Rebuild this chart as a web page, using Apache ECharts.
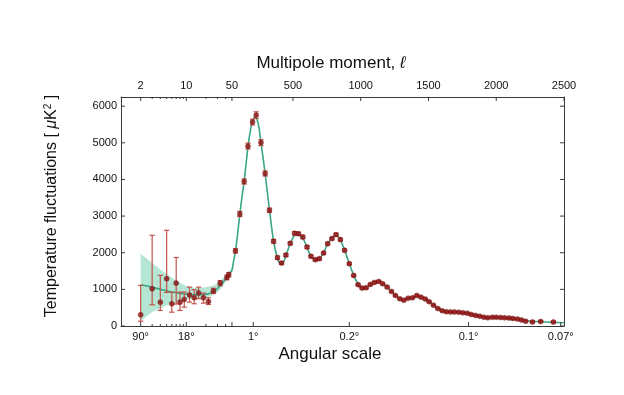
<!DOCTYPE html>
<html><head><meta charset="utf-8">
<script src="https://cdn.jsdelivr.net/npm/echarts@6/dist/echarts.min.js"></script>
<style>html,body{margin:0;padding:0;background:#fff}#c{width:624px;height:395px}</style>
</head><body><div id="c"></div>
<script>
// ---- data ----
const lowL   = [2,3,4,5,6,7,8,9.3,11.2,13.2,15.4,18.3,21.8,26,33,41.8,44.6];
const lowD   = [306,1017,651,1291,607,1171,651,725,848,771,903,771,670,957,1171,1326,1400];
const lowHi  = [1108,2475,1381,2612,924,1870,924,924,1061,990,1061,897,771,1030,1240,1390,1460];
const lowLo  = [130,580,424,916,377,600,424,514,651,607,744,624,588,890,1100,1260,1340];

const highL = [76,108,140,168,202,229,264,295,327,357,386,416,448,480,512,541,573,604,633,665,695,726,756,788,818,850,881,916,948,981,1010,1040,1071,1101,1133,1162,1195,1227,1256,1288,1318,1350,1382,1414,1445,1476,1505,1537,1569,1601,1632,1663,1692,1724,1754,1786,1816,1848,1879,1909,1938,1971,2000,2032,2062,2094,2123,2156,2186,2217,2267,2328,2422];
const highD = [2051,3058,3944,4909,5566,5757,5005,4163,3159,2311,1865,1718,1936,2256,2530,2516,2429,2155,1901,1811,1838,1991,2248,2385,2494,2358,2065,1701,1381,1127,1034,1045,1135,1190,1217,1154,1061,944,834,744,706,760,771,834,788,738,662,569,479,416,388,383,383,377,361,350,315,287,265,241,227,238,238,232,224,219,205,191,164,130,112,125,110];
const highErr = [60,70,70,80,80,90,80,70,60,50,45,40,40,40,45,45,45,40,35,35,35,35,35,35,35,35,35,30,30,28,25,25,25,25,25,25,25,22,22,20,20,20,20,20,20,20,18,18,18,18,18,18,18,18,18,18,18,18,18,18,18,18,20,20,20,20,20,22,22,22,22,25,25];

const modelL = [2,3,4,5,6,8,10,14,18,22,27,33,40,45,50,60,76,90,108,125,140,168,190,205,220,235,250,264,280,295,327,357,386,410,425,448,480,512,530,545,573,604,633,665,695,726,756,788,812,830,850,881,916,948,981,1010,1040,1071,1101,1133,1162,1195,1227,1256,1288,1318,1350,1382,1414,1445,1476,1505,1537,1569,1601,1632,1663,1692,1724,1754,1786,1816,1848,1879,1909,1938,1971,2000,2032,2062,2094,2123,2156,2186,2217,2267,2328,2422,2500];
const modelD = [1127,1060,1000,960,930,890,865,850,860,880,950,1100,1290,1400,1520,1730,2050,2450,3050,3550,3950,4880,5420,5630,5700,5640,5400,5000,4580,4150,3160,2320,1850,1700,1710,1920,2250,2480,2530,2510,2400,2150,1900,1800,1830,2000,2240,2400,2470,2450,2360,2070,1700,1390,1140,1040,1050,1130,1190,1210,1160,1060,945,835,745,710,755,775,820,790,735,660,570,480,420,390,383,380,375,360,345,318,290,265,245,232,230,228,225,220,212,200,188,170,150,130,115,100,90];

const bandL  = [2,3,4,5,6,8,10,14,20,27,33,40,48,56];
const bandHi = [1975,1720,1540,1420,1320,1180,1090,1040,1060,1120,1230,1380,1540,1700];
const bandLo = [130,380,480,560,610,680,720,750,770,850,990,1200,1420,1600];

const topTickL   = [2,10,50,500,1000,1500,2000,2500];
const topLabels  = ['2','10','50','500','1000','1500','2000','2500'];
const minorTickL = [3,4,5,6,7,8,9,20,30,40];
const botTickL   = [2,10,50,207,916,1796,2476];
const botLabelL  = [2,10,207,916,1796,2476];
const botLabels  = ['90°','18°','1°','0.2°','0.1°','0.07°'];
const yTicks     = [0,1000,2000,3000,4000,5000,6000];
const YMAX = 6250;

// ---- hybrid scale: log for l<=50, linear above ----
const K = 65.2, C = 0.1353;
function U(l){ return l <= 50 ? K*Math.log10(l) : K*Math.log10(50) + C*(l-50); }
const XMIN = U(1), XMAX = U(2500);

function labelFor(ls, labs){
  const m = ls.map(l => U(l));
  return v => { for (let i=0;i<m.length;i++) if (Math.abs(m[i]-v) < 1e-6) return labs[i]; return ''; };
}

const FONT = 'Liberation Sans';
const INK = '#3a3a3a';
const frame = {show:true, onZero:false, lineStyle:{color:INK, width:1}};

// tick marks drawn inward: [x, y, dx, dy]
const xTickData = []
  .concat(topTickL.map(l => [U(l), YMAX, 0, 4]))
  .concat(minorTickL.map(l => [U(l), YMAX, 0, 2]))
  .concat(botTickL.map(l => [U(l), 0, 0, -4]))
  .concat(minorTickL.map(l => [U(l), 0, 0, -2]));
const yTickData = []
  .concat(yTicks.map(v => [XMIN, v, 4, 0]))
  .concat(yTicks.map(v => [XMAX, v, -4, 0]));

const chart = echarts.init(document.getElementById('c'), null, {renderer:'canvas'});
chart.setOption({
  animation:false,
  backgroundColor:'#fff',
  grid:{left:121, right:60, top:97, bottom:69},
  xAxis:[
    {type:'value', position:'top', min:XMIN, max:XMAX, splitLine:{show:false}, axisLine:frame, axisTick:{show:false},
     axisLabel:{show:true, margin:6, fontFamily:FONT, fontSize:11, color:'#111', customValues: topTickL.map(U), formatter: labelFor(topTickL, topLabels)}},
    {type:'value', position:'bottom', min:XMIN, max:XMAX, splitLine:{show:false}, axisLine:frame, axisTick:{show:false},
     axisLabel:{show:true, margin:5, fontFamily:FONT, fontSize:11, color:'#111', customValues: botLabelL.map(U), formatter: labelFor(botLabelL, botLabels)}}
  ],
  yAxis:[
    {type:'value', position:'left', min:0, max:YMAX, splitLine:{show:false}, axisLine:frame, axisTick:{show:false},
     axisLabel:{show:true, margin:4, fontFamily:FONT, fontSize:11, color:'#111', customValues:yTicks, formatter: v => String(v)}},
    {type:'value', position:'right', min:0, max:YMAX, splitLine:{show:false}, axisLine:frame, axisTick:{show:false}, axisLabel:{show:false}}
  ],
  series:[
    {type:'custom', xAxisIndex:0, yAxisIndex:0, z:1, silent:true,
     encode:{x:0, y:1},
     data: bandL.map((l,i)=>[U(l), bandHi[i]]),
     renderItem:(params, api)=>{
       if (params.dataIndex !== 0) return null;
       const pts = [];
       for (let i=0;i<bandL.length;i++) pts.push(api.coord([U(bandL[i]), bandHi[i]]));
       for (let i=bandL.length-1;i>=0;i--) pts.push(api.coord([U(bandL[i]), bandLo[i]]));
       return {type:'polygon', shape:{points:pts}, style:{fill:'#b4e6d3'}};
     }},
    {type:'line', xAxisIndex:0, yAxisIndex:0, symbol:'none', smooth:0.35, z:2,
     lineStyle:{color:'#3aa684', width:1.6}, data: modelL.map((l,i)=>[U(l), modelD[i]])},
    {type:'custom', xAxisIndex:0, yAxisIndex:0, z:3,
     encode:{x:0, y:[1,2]},
     data: lowL.map((l,i)=>[U(l), lowLo[i], lowHi[i]]).concat(highL.map((l,i)=>[U(l), highD[i]-highErr[i], highD[i]+highErr[i]])),
     renderItem:(params, api)=>{
       const x = api.value(0);
       const a = api.coord([x, api.value(1)]);
       const b = api.coord([x, api.value(2)]);
       const w = 2.6;
       const st = {stroke:'#c4524c', lineWidth:1.2};
       return {type:'group', children:[
         {type:'line', shape:{x1:a[0], y1:a[1], x2:b[0], y2:b[1]}, style:st},
         {type:'line', shape:{x1:a[0]-w, y1:a[1], x2:a[0]+w, y2:a[1]}, style:st},
         {type:'line', shape:{x1:b[0]-w, y1:b[1], x2:b[0]+w, y2:b[1]}, style:st}
       ]};
     }},
    {type:'scatter', xAxisIndex:0, yAxisIndex:0, z:4, symbol:'circle', symbolSize:5,
     itemStyle:{color:'#8c1515', borderColor:'#6e0d0d', borderWidth:0.5},
     data: lowL.map((l,i)=>[U(l), lowD[i]]).concat(highL.map((l,i)=>[U(l), highD[i]]))},
    {type:'custom', xAxisIndex:0, yAxisIndex:0, z:5, silent:true, clip:false,
     encode:{x:0, y:1},
     data: xTickData.concat(yTickData),
     renderItem:(params, api)=>{
       const p = api.coord([api.value(0), api.value(1)]);
       const dx = api.value(2), dy = api.value(3);
       return {type:'line', shape:{x1:p[0], y1:p[1], x2:p[0]+dx, y2:p[1]+dy}, style:{stroke:INK, lineWidth:1}};
     }}
  ],
  graphic:[
    {type:'text', x:331, y:63, style:{text:'Multipole moment, {i|ℓ}', fontFamily:FONT, fontSize:17, fill:'#111', align:'center', verticalAlign:'middle',
      rich:{i:{fontFamily:FONT, fontSize:17, fontStyle:'italic', fill:'#111'}}}},
    {type:'text', x:330, y:354, style:{text:'Angular scale', fontFamily:FONT, fontSize:17, fill:'#111', align:'center', verticalAlign:'middle'}},
    {type:'text', x:52, y:206, rotation:Math.PI/2, style:{text:'Temperature fluctuations [ {i|μ}K{s|2} ]', fontFamily:FONT, fontSize:16, fill:'#111', align:'center', verticalAlign:'middle',
      rich:{i:{fontFamily:FONT, fontSize:16, fontStyle:'italic', fill:'#111'}, s:{fontFamily:FONT, fontSize:10, fill:'#111', verticalAlign:'top', padding:[0,0,8,0]}}}}
  ]
});
</script></body></html>
